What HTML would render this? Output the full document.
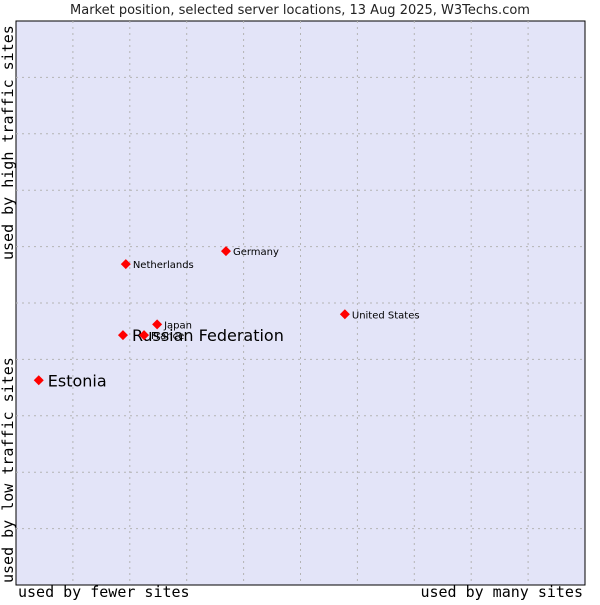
<!DOCTYPE html>
<html><head><meta charset="utf-8"><style>
body{margin:0;background:#fff;}
svg text{font-family:"DejaVu Sans","Liberation Sans",sans-serif;}
</style></head><body>
<svg width="600" height="600">
<text x="300" y="14" text-anchor="middle" font-size="13" fill="#222">Market position, selected server locations, 13 Aug 2025, W3Techs.com</text>
<rect x="16" y="21" width="569" height="564" fill="#e3e4f8" stroke="#000" stroke-width="1"/>
<g id="grid"></g>
<g id="pts"></g>
<text x="18" y="597" font-size="15" style="font-family:'DejaVu Sans Mono','Liberation Mono',monospace">used by fewer sites</text>
<text x="583" y="597" text-anchor="end" font-size="15" style="font-family:'DejaVu Sans Mono','Liberation Mono',monospace">used by many sites</text>
<text transform="translate(13,583) rotate(-90)" font-size="15" style="font-family:'DejaVu Sans Mono','Liberation Mono',monospace">used by low traffic sites</text>
<text transform="translate(13,260) rotate(-90)" font-size="15" style="font-family:'DejaVu Sans Mono','Liberation Mono',monospace">used by high traffic sites</text>
</svg>
<script>
const names = ["Estonia","Russian Federation","France","Japan","Netherlands","Germany","United States"];
const xVals = [4.0,18.8,22.5,24.8,19.3,36.9,57.8];
const yVals = [36.3,44.3,44.3,46.2,56.9,59.2,48.0];
const big = [true,true,false,false,false,false,false];
const L=16,R=585,T=21,B=585;
const sx=v=>L+v/100*(R-L), sy=v=>B-v/100*(B-T);
const ns="http://www.w3.org/2000/svg";
const g=document.getElementById('grid');
for(let i=1;i<10;i++){
  const x=L+i*(R-L)/10, y=T+i*(B-T)/10;
  const a=document.createElementNS(ns,'line');
  a.setAttribute('x1',x);a.setAttribute('x2',x);a.setAttribute('y1',T);a.setAttribute('y2',B);
  a.setAttribute('stroke','#b4b4b4');a.setAttribute('stroke-dasharray','2,4');
  
  
  g.appendChild(a);
  const b=document.createElementNS(ns,'line');
  b.setAttribute('x1',L);b.setAttribute('x2',R);b.setAttribute('y1',y);b.setAttribute('y2',y);
  b.setAttribute('stroke','#b4b4b4');b.setAttribute('stroke-dasharray','2,4');
  
  
  g.appendChild(b);
}
const p=document.getElementById('pts');
names.forEach((n,i)=>{
  const x=sx(xVals[i]), y=sy(yVals[i]);
  const d=document.createElementNS(ns,'path');
  d.setAttribute('d',`M${x-5},${y} L${x},${y-5} L${x+5},${y} L${x},${y+5} Z`);
  d.setAttribute('fill','#f00');
  
  
  p.appendChild(d);
  const t=document.createElementNS(ns,'text');
  t.setAttribute('x',x+(big[i]?9:7));t.setAttribute('y',y+(big[i]?6:4));
  t.setAttribute('font-size',big[i]?'16':'10');
  t.textContent=n;
  
  
  p.appendChild(t);
});
</script>
</body></html>
